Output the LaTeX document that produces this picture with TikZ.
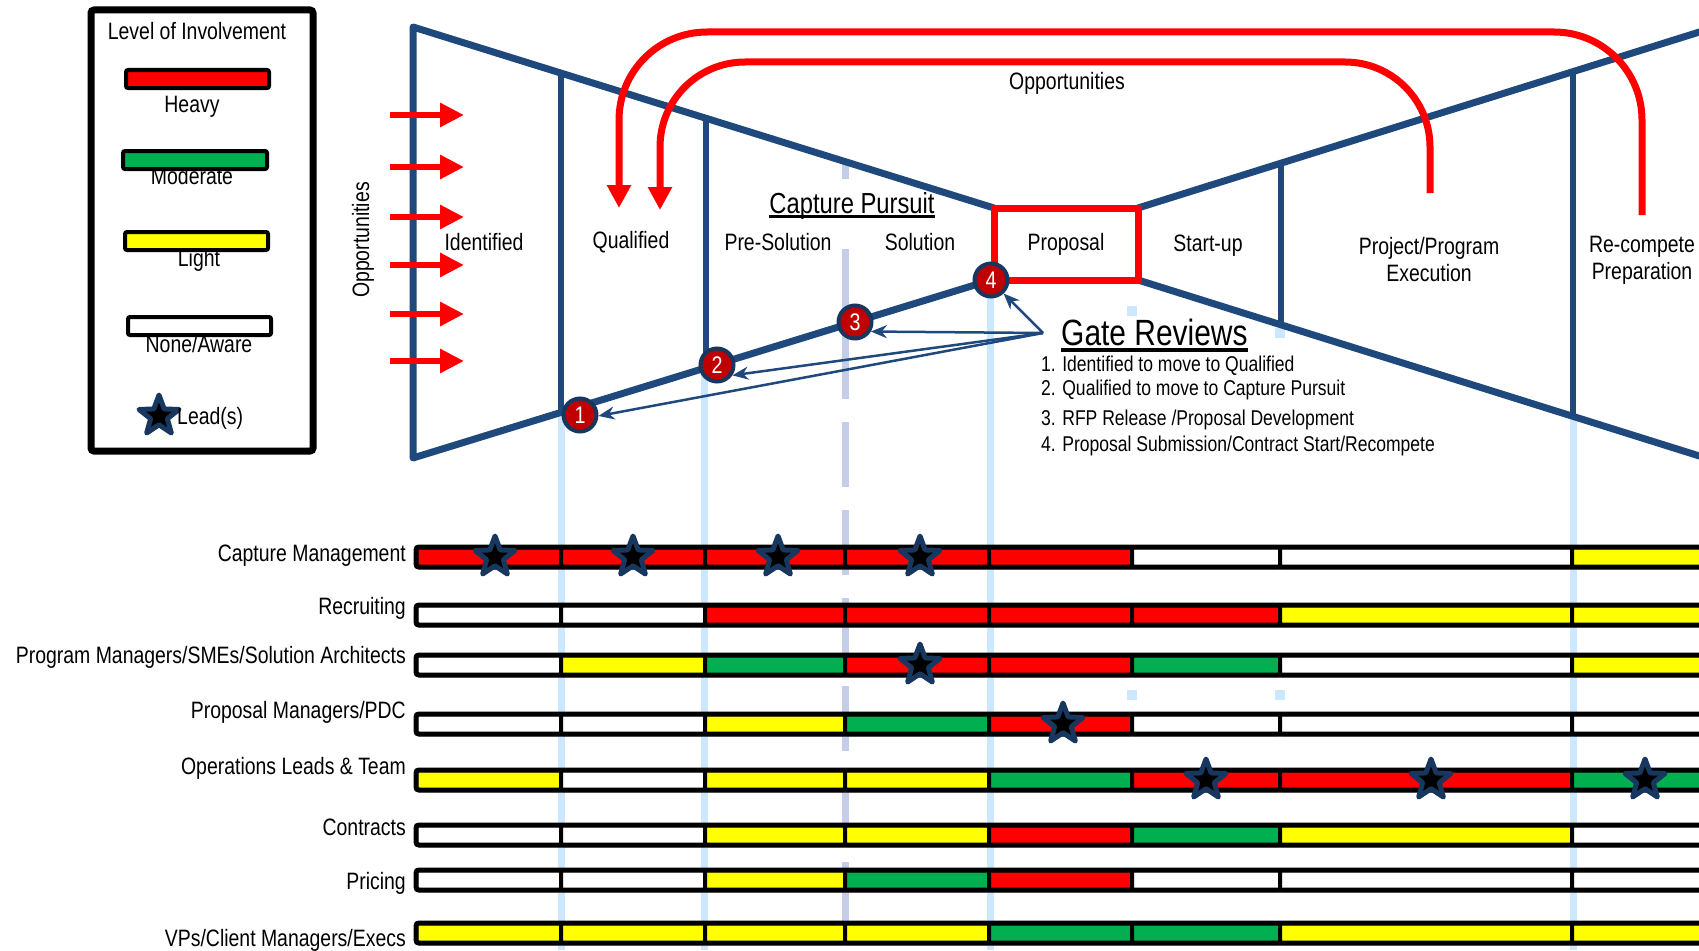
\documentclass[tikz,border=0pt]{standalone}
\usepackage{fontspec}
\setmainfont[FakeStretch=0.82]{Liberation Sans}
\usepackage{tikz}
\usetikzlibrary{shapes.geometric, arrows.meta, positioning, calc}

\definecolor{funnelblue}{RGB}{31,73,125}
\definecolor{starblue}{RGB}{23,55,94}
\definecolor{gatered}{RGB}{192,0,0}
\definecolor{heavy}{RGB}{255,0,0}
\definecolor{moderate}{RGB}{0,176,80}
\definecolor{light}{RGB}{255,255,0}
\definecolor{aware}{RGB}{255,255,255}
\definecolor{guideblue}{RGB}{204,232,255}
\definecolor{dashblue}{RGB}{197,206,232}

\begin{document}
\begin{tikzpicture}[
    x=1pt, y=-1pt,
    every node/.style={font=\fontsize{23.7}{27}\selectfont, inner sep=0pt},
    funnel/.style={draw=funnelblue, line width=7pt, line join=round},
    divider/.style={draw=funnelblue, line width=6pt},
    guide/.style={draw=guideblue, line width=7pt},
    loop/.style={draw=red, line width=7pt, rounded corners=88pt, -{Triangle[length=23pt,width=23pt]}},
    inarrow/.style={draw=red, line width=6pt, -{Triangle[length=24pt,width=23pt]}},
    gate/.style={circle, draw=starblue, fill=gatered, line width=4pt, minimum size=33pt, text=white, font=\fontsize{24}{26}\selectfont},
    gatearrow/.style={draw=funnelblue, line width=2.5pt, >={Stealth[length=16pt,width=13pt]}, ->},
    leadstar/.style={star, star points=5, star point ratio=2.4, draw=starblue, fill=black, line width=5pt, line join=round, minimum size=42pt},
    lvlbar/.style={draw=black, line width=4pt, rounded corners=2pt},
    stage/.style={align=center},
    rowlabel/.style={anchor=east},
    gateitem/.style={anchor=west, font=\fontsize{21.4}{24}\selectfont}
]
\useasboundingbox (0,0) rectangle (1699,950);
\clip (0,0) rectangle (1699,950);

\draw[guide] (561,415) -- (561,950);
\draw[guide] (704,365) -- (704,950);
\draw[guide] (990,280) -- (990,950);
\draw[guide] (1573,416) -- (1573,950);
\foreach \qx/\qy in {1132/311, 1280/333, 1132/695, 1280/695}
    \fill[guideblue] (\qx-5,\qy-5) rectangle (\qx+5,\qy+5);
\draw[dashblue, line width=7pt] (845,160) -- (845,179);
\draw[dashblue, line width=7pt] (845,249) -- (845,399);
\draw[dashblue, line width=7pt, dash pattern=on 65pt off 23pt] (845,422) -- (845,950);

\node (loi) at (197,31) {Level of Involvement};
\node (heavylbl) at (192,107) {Heavy};
\node (moderatelbl) at (192,176) {Moderate};
\node (lightlbl) at (199,260) {Light};
\node (awarelbl) at (199,344) {None/Aware};
\filldraw[fill=heavy, lvlbar] (126,70) rectangle (269,88);
\filldraw[fill=moderate, lvlbar] (123,151) rectangle (267,169);
\filldraw[fill=light, lvlbar] (125,232) rectangle (268,250);
\filldraw[fill=aware, lvlbar] (128,317) rectangle (271,335);
\node[leadstar] (legstar) at (159,416) {};
\node[anchor=west] (leadlbl) at (177,418) {Lead(s)};
\draw[black, line width=7pt, rounded corners=3pt] (91,10) rectangle (313,451);

\foreach \who/\ly/\by/\cols [count=\r] in {
    Capture Management/556/557/{heavy,heavy,heavy,heavy,heavy,aware,aware,light},
    Recruiting/608/615/{aware,aware,heavy,heavy,heavy,heavy,light,light},
    {Program Managers/SMEs/Solution Architects}/657/665/{aware,light,moderate,heavy,heavy,moderate,aware,light},
    {Proposal Managers/PDC}/712/724/{aware,aware,light,moderate,heavy,aware,aware,aware},
    Operations Leads \& Team/768/780/{light,aware,light,light,moderate,heavy,heavy,moderate},
    Contracts/827/835/{aware,aware,light,light,heavy,moderate,light,aware},
    Pricing/883/880/{aware,aware,light,moderate,heavy,aware,aware,aware},
    {VPs/Client Managers/Execs}/940/933/{light,light,light,light,moderate,moderate,light,light}%
}{
    \node[rowlabel] (who\r) at (406,\ly) {\who};
    \foreach \c [count=\k] in \cols {
        \pgfmathsetmacro\xa{{416,561,705,845,989,1132,1280,1572}[\k-1]}
        \pgfmathsetmacro\xb{{561,705,845,989,1132,1280,1572,1760}[\k-1]}
        \filldraw[fill=\c, lvlbar] (\xa,\by-10) rectangle (\xb,\by+10);
    }
    \draw[black, line width=5pt, rounded corners=3pt] (416,\by-10) rectangle (1760,\by+10);
}

\draw[funnel] (994,208) -- (413,27) -- (413,458) -- (991,280);
\draw[funnel] (1138,208) -- (1760,13);
\draw[funnel] (1138,280) -- (1760,475);
\draw[divider] (561,73) -- (561,412);
\draw[divider] (706,118) -- (706,367);
\draw[divider] (1281,163) -- (1281,325);
\draw[divider] (1573,72) -- (1573,416);
\node[draw=red, line width=7pt, minimum width=144pt, minimum height=72pt] (prop) at (1066,244) {Proposal};

\foreach \ay [count=\i] in {115,167,217,265,314,361} {
    \coordinate (in\i) at (390,\ay);
    \draw[inarrow] (in\i) -- ++(74,0);
}
\coordinate (outerstart) at (1642,215);
\coordinate (outerend) at (619,208);
\coordinate (innerstart) at (1430,193);
\coordinate (innerend) at (660,210);
\draw[loop] (outerstart) -- (1642,32) -- (619,32) -- (outerend);
\draw[loop, rounded corners=85pt] (innerstart) -- (1430,62) -- (660,62) -- (innerend);

\node[gate] (g1) at (580,415) {1};
\node[gate] (g2) at (717,365) {2};
\node[gate] (g3) at (855,322) {3};
\node[gate] (g4) at (991,280) {4};
\coordinate (gsrc) at (1043,333);
\draw[gatearrow] (gsrc) -- (g4.-47);
\draw[gatearrow] (gsrc) -- (g3.-31);
\draw[gatearrow] (gsrc) -- (g2.-34);
\draw[gatearrow] (gsrc) -- (g1.-3);

\foreach \sx/\sy [count=\i] in {495/557, 633/557, 778/557, 920/557, 920/665, 1063/724, 1206/780, 1431/780, 1645/780}
    \node[leadstar] (lead\i) at (\sx,\sy) {};

\node (ident) at (484,242) {Identified};
\node (qual) at (631,242) {Qualified};
\node (presol) at (778,242) {Pre-Solution};
\node (sol) at (920,242) {Solution};
\node (startup) at (1208,246) {Start-up};
\node[stage] (exec) at (1429,260) {Project/Program\\Execution};
\node[stage] (recomp) at (1642,260) {Re-compete\\Preparation};
\node[font=\fontsize{29}{32}\selectfont] (pursuit) at (852,206) {Capture Pursuit};
\draw[line width=2.5pt] ([yshift=-3pt]pursuit.base west) -- ([yshift=-3pt]pursuit.base east);
\node (opptop) at (1067,83) {Opportunities};
\node[rotate=90] (oppleft) at (363,240) {Opportunities};

\node[anchor=west, font=\fontsize{36.5}{40}\selectfont] (gatetitle) at (1061,332) {Gate Reviews};
\draw[line width=3.5pt] ([yshift=-5pt]gatetitle.base west) -- ([yshift=-5pt]gatetitle.base east);
\node[gateitem] (gr1) at (1041,366) {1. Identified to move to Qualified};
\node[gateitem] (gr2) at (1041,390) {2. Qualified to move to Capture Pursuit};
\node[gateitem] (gr3) at (1041,420) {3. RFP Release /Proposal Development};
\node[gateitem] (gr4) at (1041,446) {4. Proposal Submission/Contract Start/Recompete};
\end{tikzpicture}
\end{document}
